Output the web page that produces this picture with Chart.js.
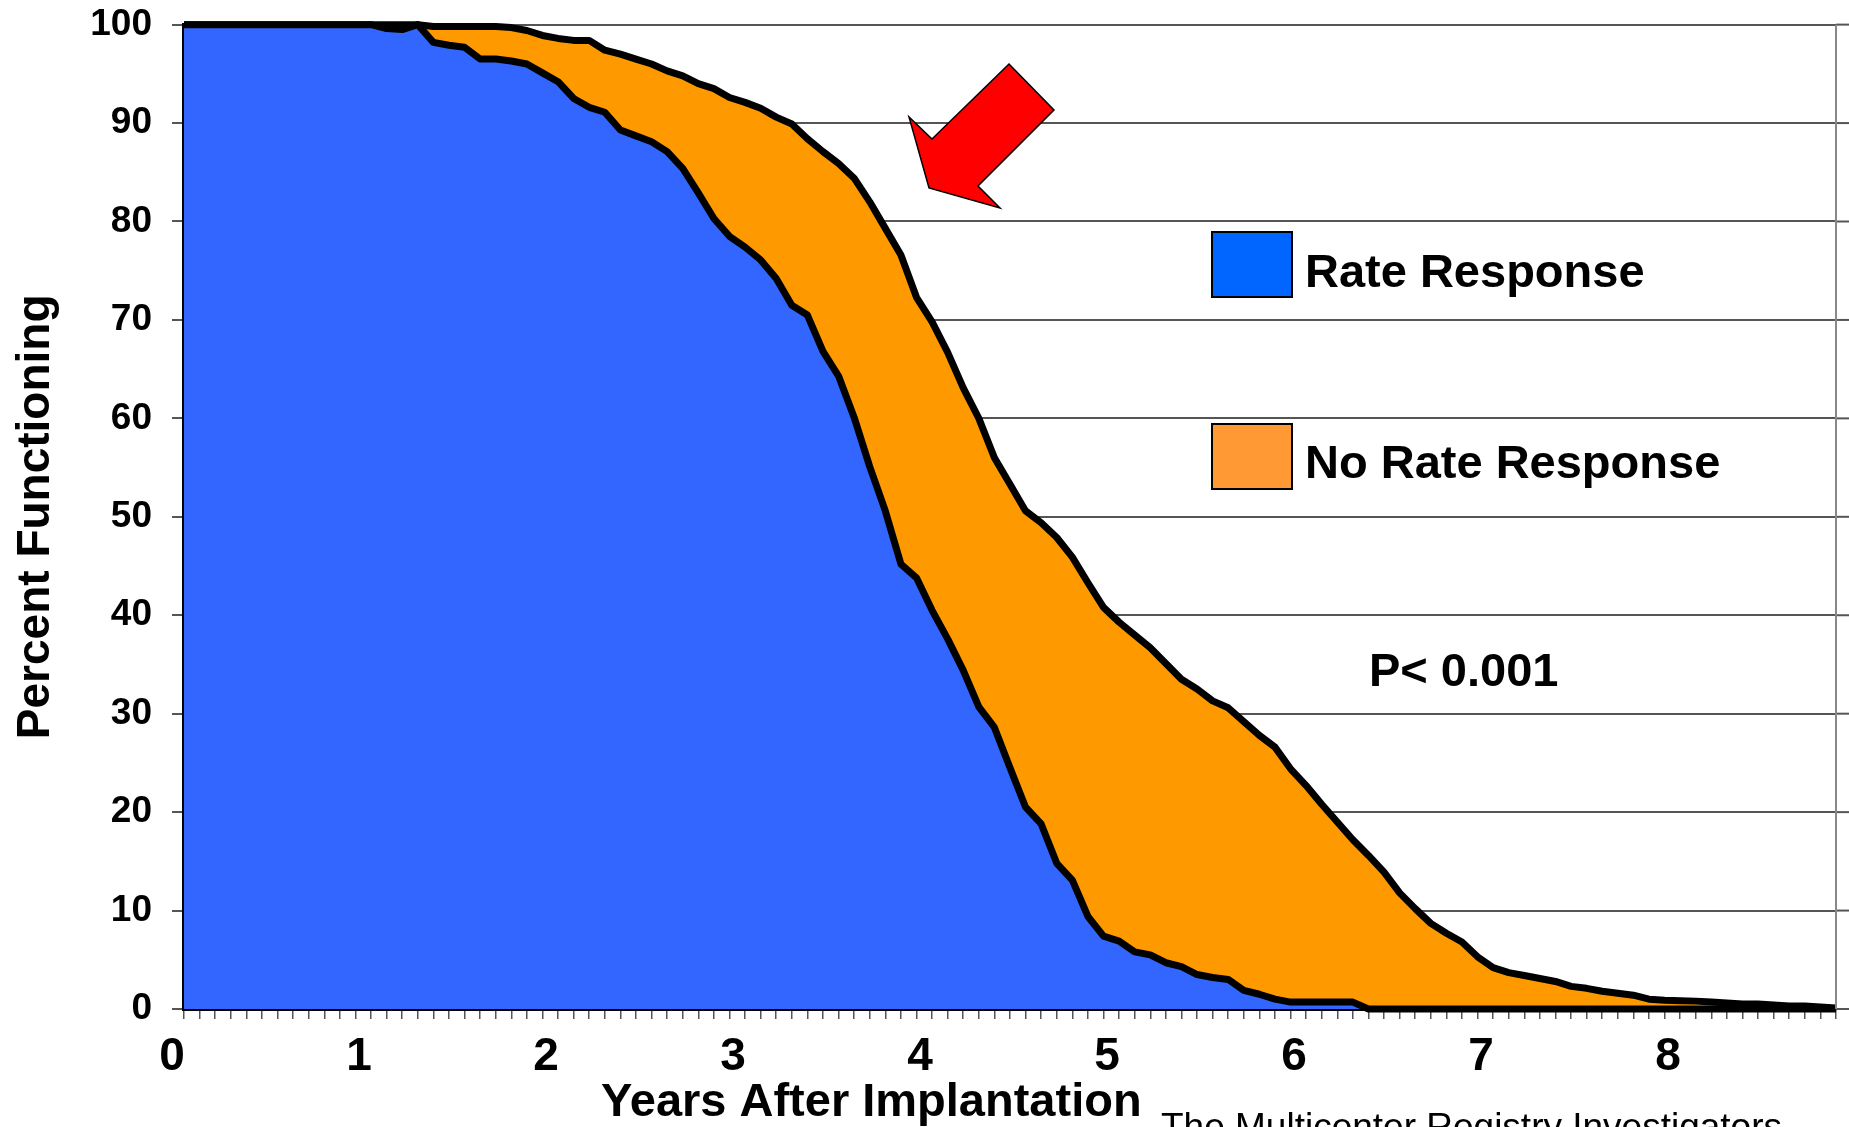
<!DOCTYPE html>
<html>
<head>
<meta charset="utf-8">
<title>Percent Functioning</title>
<script src="https://cdn.jsdelivr.net/npm/chart.js@4.4.1/dist/chart.umd.min.js"></script>
<style>
    html, body { margin: 0; padding: 0; background: #fff; overflow: hidden; }
    #wrap { width: 1849px; height: 1127px; position: relative; }
</style>
</head>
<body>
<div id="wrap"><canvas id="survivalChart"></canvas></div>
<script>
// ==========================================
// DATA (monthly)
// ==========================================
const yearLabels = ['0', '1', '2', '3', '4', '5', '6', '7', '8'];
const seriesNames = ['Rate Response', 'No Rate Response'];

// months 0..106
const rateResponse = [
    100, 100, 100, 100, 100, 100, 100, 100, 100, 100, 100, 100, 100,
    99.6, 99.5, 100, 98.2, 97.9, 97.7, 96.5, 96.5, 96.3, 96.0, 95.1, 94.2,
    92.5, 91.6, 91.1, 89.3, 88.7, 88.1, 87.1, 85.4, 82.9, 80.3, 78.5, 77.4,
    76.1, 74.2, 71.5, 70.5, 66.8, 64.3, 60.1, 55.1, 50.6, 45.2, 43.8, 40.5,
    37.6, 34.4, 30.7, 28.6, 24.5, 20.5, 18.8, 14.8, 13.1, 9.4, 7.4, 6.9,
    5.8, 5.5, 4.7, 4.3, 3.5, 3.2, 3.0, 1.9, 1.5, 1.0, 0.7, 0.7,
    0.7, 0.7, 0.7, 0, 0, 0, 0, 0, 0, 0, 0, 0,
    0, 0, 0, 0, 0, 0, 0, 0, 0, 0, 0, 0,
    0, 0, 0, 0, 0, 0, 0, 0, 0, 0
];

const noRateResponse = [
    100, 100, 100, 100, 100, 100, 100, 100, 100, 100, 100, 100, 100,
    100, 100, 100, 99.8, 99.8, 99.8, 99.8, 99.8, 99.7, 99.4, 98.9, 98.6,
    98.4, 98.4, 97.4, 97.0, 96.5, 96.0, 95.3, 94.8, 94.0, 93.5, 92.6, 92.1,
    91.5, 90.6, 89.9, 88.4, 87.1, 85.9, 84.4, 82.0, 79.3, 76.6, 72.3, 69.8,
    66.7, 63.1, 60.0, 56.0, 53.3, 50.6, 49.4, 47.9, 45.9, 43.3, 40.8, 39.3,
    38.0, 36.7, 35.1, 33.5, 32.5, 31.3, 30.6, 29.2, 27.8, 26.6, 24.4, 22.7,
    20.8, 19.0, 17.2, 15.6, 13.9, 11.8, 10.2, 8.7, 7.7, 6.8, 5.3, 4.2,
    3.7, 3.4, 3.1, 2.8, 2.3, 2.1, 1.8, 1.6, 1.4, 1.0, 0.9, 0.85,
    0.8, 0.7, 0.6, 0.5, 0.5, 0.4, 0.3, 0.3, 0.2, 0.1
];

const FONT = "'Liberation Sans', Arial, sans-serif";
const toPoints = arr => arr.map((v, i) => ({ x: i / 12, y: v }));

// ==========================================
// EXTRAS: legend boxes, p value, arrow, captions
// ==========================================
const extrasPlugin = {
    id: 'extras',
    afterDraw(chart) {
        const ctx = chart.ctx;
        const area = chart.chartArea;
        const yScale = chart.scales.y;
        ctx.save();

        // gridlines run a little past the frame
        ctx.strokeStyle = '#555';
        ctx.lineWidth = 2;
        yScale.ticks.forEach(t => {
            const py = yScale.getPixelForValue(t.value);
            ctx.beginPath();
            ctx.moveTo(area.right, py);
            ctx.lineTo(chart.width, py);
            ctx.stroke();
        });

        // right frame line
        ctx.strokeStyle = '#888';
        ctx.beginPath();
        ctx.moveTo(area.right, area.top);
        ctx.lineTo(area.right, area.bottom);
        ctx.stroke();

        // legend
        const legend = [
            { label: seriesNames[0], color: '#0066ff', y: 232, base: 287 },
            { label: seriesNames[1], color: '#ff9933', y: 424, base: 478 }
        ];
        legend.forEach(item => {
            ctx.fillStyle = item.color;
            ctx.fillRect(1212, item.y, 80, 65);
            ctx.strokeStyle = '#000';
            ctx.lineWidth = 2;
            ctx.strokeRect(1212, item.y, 80, 65);
            ctx.fillStyle = '#000';
            ctx.font = `bold 47px ${FONT}`;
            ctx.textAlign = 'left';
            ctx.textBaseline = 'alphabetic';
            ctx.fillText(item.label, 1305, item.base);
        });

        // p value
        ctx.font = `bold 47px ${FONT}`;
        ctx.fillText('P< 0.001', 1369, 686);

        // red arrow
        ctx.beginPath();
        ctx.moveTo(1009, 64);
        ctx.lineTo(1054, 110);
        ctx.lineTo(978, 186);
        ctx.lineTo(1000, 208);
        ctx.lineTo(929, 188);
        ctx.lineTo(909, 117);
        ctx.lineTo(932, 139);
        ctx.closePath();
        ctx.fillStyle = '#ff0000';
        ctx.fill();
        ctx.strokeStyle = '#000';
        ctx.lineWidth = 1.5;
        ctx.stroke();

        // x axis title + source line
        ctx.fillStyle = '#000';
        ctx.font = `bold 47px ${FONT}`;
        ctx.fillText('Years After Implantation', 601, 1116);
        ctx.font = `37px ${FONT}`;
        ctx.fillText('The Multicenter Registry Investigators', 1161, 1139);

        ctx.restore();
    }
};

// ==========================================
// CHART
// ==========================================
new Chart(document.getElementById('survivalChart'), {
    type: 'line',
    data: {
        datasets: [
            {
                label: seriesNames[0],
                data: toPoints(rateResponse),
                backgroundColor: '#3366ff',
                borderColor: '#000',
                borderWidth: 7,
                borderJoinStyle: 'round',
                fill: 'origin',
                pointRadius: 0,
                tension: 0,
                clip: false
            },
            {
                label: seriesNames[1],
                data: toPoints(noRateResponse),
                backgroundColor: '#ff9900',
                borderColor: '#000',
                borderWidth: 7,
                borderJoinStyle: 'round',
                fill: 'origin',
                pointRadius: 0,
                tension: 0,
                clip: false
            }
        ]
    },
    options: {
        responsive: true,
        maintainAspectRatio: false,
        devicePixelRatio: 1,
        animation: false,
        layout: { padding: { top: 17, right: 13, bottom: 0, left: 0 } },
        plugins: {
            legend: { display: false },
            tooltip: { enabled: false }
        },
        scales: {
            x: {
                type: 'linear',
                min: 0,
                max: (rateResponse.length - 1) / 12,
                afterBuildTicks: scale => {
                    scale.ticks = rateResponse.map((_, i) => ({ value: i / 12 }));
                },
                afterFit: scale => { scale.height = 118; },
                ticks: {
                    autoSkip: false,
                    maxRotation: 0,
                    minRotation: 0,
                    padding: 11,
                    labelOffset: -12,
                    color: '#000',
                    font: { family: FONT, size: 46, weight: 'bold' },
                    callback: value => {
                        const m = Math.round(value * 12);
                        return m % 12 === 0 ? yearLabels[m / 12] : '';
                    }
                },
                grid: {
                    drawOnChartArea: false,
                    tickLength: 10,
                    color: '#555',
                    lineWidth: 1.5
                },
                border: { color: '#000', width: 4 }
            },
            y: {
                min: 0,
                max: 100,
                afterFit: scale => { scale.width = 184; },
                ticks: {
                    stepSize: 10,
                    padding: 20,
                    color: '#000',
                    font: { family: FONT, size: 37, weight: 'bold', lineHeight: 0.25 }
                },
                grid: {
                    color: '#555',
                    lineWidth: 2,
                    tickLength: 12
                },
                border: { color: '#000', width: 4 },
                title: {
                    display: true,
                    text: 'Percent Functioning',
                    color: '#000',
                    padding: { top: 9, bottom: 0 },
                    font: { family: FONT, size: 46, weight: 'bold' }
                }
            }
        }
    },
    plugins: [extrasPlugin]
});
</script>
</body>
</html>
